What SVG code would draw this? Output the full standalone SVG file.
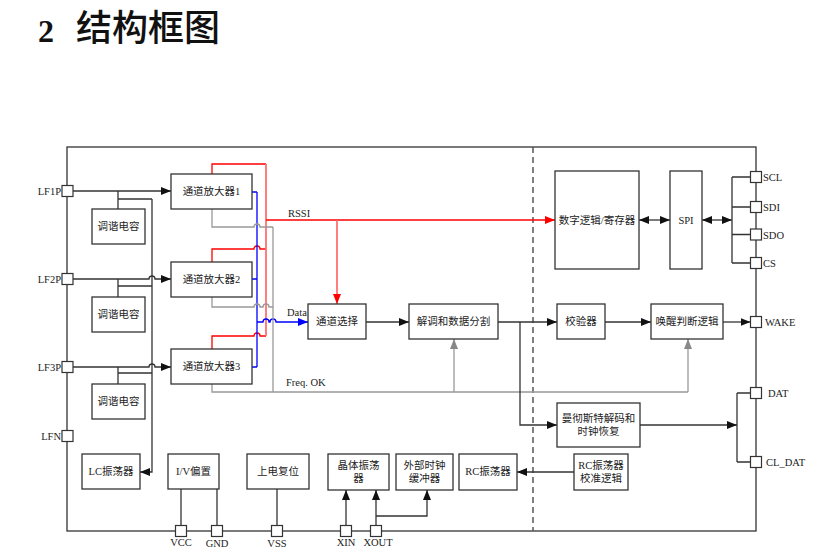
<svg xmlns="http://www.w3.org/2000/svg" width="836" height="560" viewBox="0 0 836 560">
<style>
.box{fill:#fff;stroke:#333;stroke-width:1.3}
.pin{fill:#fff;stroke:#333;stroke-width:1.2}
.t{font-family:"Liberation Serif","Noto Sans CJK SC",serif;font-size:10.5px;fill:#222;text-anchor:middle;dominant-baseline:central}
.lbl{font-family:"Liberation Serif","Noto Sans CJK SC",serif;font-size:10.5px;fill:#222}
.k{fill:none;stroke:#333;stroke-width:1.3}
.g{fill:none;stroke:#999;stroke-width:1.3}
.r{fill:none;stroke:#f00;stroke-width:1.3}
.rp{fill:none;stroke:#ff7070;stroke-width:1.8}
.b{fill:none;stroke:#00f;stroke-width:1.3}
</style>
<defs>
<marker id="ak" markerUnits="userSpaceOnUse" markerWidth="10" markerHeight="8" refX="10" refY="4" orient="auto-start-reverse"><path d="M0,0L10,4L0,8z" fill="#111"/></marker>
<marker id="ar" markerUnits="userSpaceOnUse" markerWidth="10" markerHeight="8" refX="10" refY="4" orient="auto"><path d="M0,0L10,4L0,8z" fill="#f00"/></marker>
<marker id="ab" markerUnits="userSpaceOnUse" markerWidth="10" markerHeight="8" refX="10" refY="4" orient="auto"><path d="M0,0L10,4L0,8z" fill="#00f"/></marker>
<marker id="ag" markerUnits="userSpaceOnUse" markerWidth="10" markerHeight="8" refX="10" refY="4" orient="auto"><path d="M0,0L10,4L0,8z" fill="#888"/></marker>
</defs>
<rect width="836" height="560" fill="#fff"/>
<g id="title">
<text x="38" y="42" font-family="Liberation Serif,serif" font-weight="bold" font-size="32" fill="#111">2</text>
<text x="76" y="41" font-family="Noto Sans CJK SC,sans-serif" font-weight="500" font-size="36" fill="#111">结构框图</text>
</g>
<g id="frame">
<rect x="67" y="147" width="689" height="384" fill="none" stroke="#333" stroke-width="1.3"/>
<line x1="533" y1="147" x2="533" y2="531" stroke="#555" stroke-width="1.5" stroke-dasharray="6,4"/>
</g>
<g id="connectors">
<!-- LF inputs -->
<path class="k" d="M73,191H171" marker-end="url(#ak)"/>
<path class="k" d="M73,279H149A3,3 0 0 1 155,279H171" marker-end="url(#ak)"/>
<path class="k" d="M73,367H149A3,3 0 0 1 155,367H171" marker-end="url(#ak)"/>
<path class="k" d="M118,191V209M118,199H152M118,279V297M118,286H152M118,367V384M118,373H152"/>
<path class="k" d="M152,199V472H140" marker-end="url(#ak)"/>
<!-- red RSSI -->
<path class="r" d="M212,174V164H266"/>
<path class="r" d="M212,262V249H254A3,3 0 0 1 260,249H266"/>
<path class="r" d="M212,349V336H254A3,3 0 0 1 260,336H266"/>
<path class="rp" d="M266,164V336"/>
<path class="r" d="M266,220H555" marker-end="url(#ar)"/>
<path class="rp" d="M337,220V304" marker-end="url(#ar)"/>
<!-- blue data -->
<path class="b" d="M252,192H257M252,279H257M252,367H257M257,192V367"/>
<path class="b" d="M257,322H263A3,3 0 0 1 269,322H270A3,3 0 0 1 276,322H308" marker-end="url(#ab)"/>
<!-- gray freq ok -->
<path class="g" d="M212,209V227H254A3,3 0 0 1 260,227H273"/>
<path class="g" d="M212,297V307H254A3,3 0 0 1 260,307H263A3,3 0 0 1 269,307H273"/>
<path class="g" d="M273,227V392"/>
<path class="g" d="M212,384V392H688"/>
<path class="g" d="M454,392V339" marker-end="url(#ag)"/>
<path class="g" d="M688,392V339" marker-end="url(#ag)"/>
<!-- data chain -->
<path class="k" d="M366,322H409" marker-end="url(#ak)"/>
<path class="k" d="M498,322H557" marker-end="url(#ak)"/>
<path class="k" d="M520,322V425H557" marker-end="url(#ak)"/>
<path class="k" d="M605,322H651" marker-end="url(#ak)"/>
<path class="k" d="M723,322H750.5" marker-end="url(#ak)"/>
<path class="k" d="M640,425H737" marker-end="url(#ak)"/>
<path class="k" d="M737,393V462M737,393H750.5M737,462H750.5"/>
<!-- SPI -->
<path class="k" d="M639,220H670" marker-start="url(#ak)" marker-end="url(#ak)"/>
<path class="k" d="M702,220H732" marker-start="url(#ak)" marker-end="url(#ak)"/>
<path class="k" d="M732,177V263M732,177H750.5M732,207H750.5M732,234.5H750.5M732,263H750.5"/>
<!-- bottom -->
<path class="k" d="M181,489V525.5M217,489V525.5M277,489V525.5"/>
<path class="k" d="M346,525.5V490" marker-end="url(#ak)"/>
<path class="k" d="M376,525.5V490" marker-end="url(#ak)"/>
<path class="k" d="M376,516H427V490" marker-end="url(#ak)"/>
<path class="k" d="M574,472H517" marker-end="url(#ak)"/>
</g>
<g id="n-amp1"><rect class="box" x="171" y="174" width="81" height="35"/><text class="t" x="211.5" y="191.5">通道放大器1</text></g>
<g id="n-amp2"><rect class="box" x="171" y="262" width="81" height="35"/><text class="t" x="211.5" y="279.5">通道放大器2</text></g>
<g id="n-amp3"><rect class="box" x="171" y="349" width="81" height="35"/><text class="t" x="211.5" y="366.5">通道放大器3</text></g>
<g id="n-cap1"><rect class="box" x="92" y="209" width="53" height="35"/><text class="t" x="118.5" y="226.5">调谐电容</text></g>
<g id="n-cap2"><rect class="box" x="92" y="297" width="53" height="35"/><text class="t" x="118.5" y="314.5">调谐电容</text></g>
<g id="n-cap3"><rect class="box" x="92" y="384" width="53" height="35"/><text class="t" x="118.5" y="401.5">调谐电容</text></g>
<g id="n-sel"><rect class="box" x="308" y="304" width="58" height="35"/><text class="t" x="337" y="321.5">通道选择</text></g>
<g id="n-demod"><rect class="box" x="409" y="304" width="89" height="35"/><text class="t" x="453.5" y="321.5">解调和数据分割</text></g>
<g id="n-logic"><rect class="box" x="555" y="171" width="84" height="98"/><text class="t" x="597" y="220">数字逻辑/寄存器</text></g>
<g id="n-spi"><rect class="box" x="670" y="171" width="32" height="98"/><text class="t" x="686" y="220">SPI</text></g>
<g id="n-check"><rect class="box" x="557" y="304" width="48" height="35"/><text class="t" x="581" y="321.5">校验器</text></g>
<g id="n-wake"><rect class="box" x="651" y="304" width="72" height="35"/><text class="t" x="687" y="321.5">唤醒判断逻辑</text></g>
<g id="n-manch"><rect class="box" x="557" y="403" width="83" height="44"/><text class="t" x="598.5" y="418">曼彻斯特解码和</text><text class="t" x="598.5" y="431.5">时钟恢复</text></g>
<g id="n-lc"><rect class="box" x="82" y="454" width="58" height="35"/><text class="t" x="111" y="471.5">LC振荡器</text></g>
<g id="n-iv"><rect class="box" x="168" y="454" width="51" height="35"/><text class="t" x="193.5" y="471.5">I/V偏置</text></g>
<g id="n-por"><rect class="box" x="247" y="454" width="62" height="35"/><text class="t" x="278" y="471.5">上电复位</text></g>
<g id="n-xtal"><rect class="box" x="328" y="454" width="61" height="36"/><text class="t" x="358.5" y="465.5">晶体振荡</text><text class="t" x="358.5" y="478">器</text></g>
<g id="n-extclk"><rect class="box" x="396" y="454" width="57" height="36"/><text class="t" x="424.5" y="465.5">外部时钟</text><text class="t" x="424.5" y="478">缓冲器</text></g>
<g id="n-rc"><rect class="box" x="459" y="454" width="58" height="36"/><text class="t" x="488" y="471.5">RC振荡器</text></g>
<g id="n-rccal"><rect class="box" x="574" y="454" width="54" height="36"/><text class="t" x="601" y="465.5">RC振荡器</text><text class="t" x="601" y="478.5">校准逻辑</text></g>
<g id="pins">
<rect class="pin" x="62" y="185.5" width="11" height="11"/><text class="lbl" x="61" y="195" text-anchor="end">LF1P</text>
<rect class="pin" x="62" y="273.5" width="11" height="11"/><text class="lbl" x="61" y="283" text-anchor="end">LF2P</text>
<rect class="pin" x="62" y="361.5" width="11" height="11"/><text class="lbl" x="61" y="371" text-anchor="end">LF3P</text>
<rect class="pin" x="62" y="430.5" width="11" height="11"/><text class="lbl" x="61" y="440" text-anchor="end">LFN</text>
<rect class="pin" x="750.5" y="171.5" width="11" height="11"/><text class="lbl" x="763" y="181">SCL</text>
<rect class="pin" x="750.5" y="201.5" width="11" height="11"/><text class="lbl" x="763" y="211">SDI</text>
<rect class="pin" x="750.5" y="229" width="11" height="11"/><text class="lbl" x="763" y="238.5">SDO</text>
<rect class="pin" x="750.5" y="257.5" width="11" height="11"/><text class="lbl" x="763" y="267">CS</text>
<rect class="pin" x="750.5" y="316.5" width="11" height="11"/><text class="lbl" x="765" y="326">WAKE</text>
<rect class="pin" x="750.5" y="387.5" width="11" height="11"/><text class="lbl" x="768" y="397">DAT</text>
<rect class="pin" x="750.5" y="456.5" width="11" height="11"/><text class="lbl" x="766" y="466">CL_DAT</text>
<rect class="pin" x="175.5" y="525.5" width="11" height="11"/><text class="lbl" x="181" y="546" text-anchor="middle">VCC</text>
<rect class="pin" x="211.5" y="525.5" width="11" height="11"/><text class="lbl" x="217" y="547" text-anchor="middle">GND</text>
<rect class="pin" x="271.5" y="525.5" width="11" height="11"/><text class="lbl" x="277" y="547" text-anchor="middle">VSS</text>
<rect class="pin" x="340.5" y="525.5" width="11" height="11"/><text class="lbl" x="346" y="546" text-anchor="middle">XIN</text>
<rect class="pin" x="370.5" y="525.5" width="11" height="11"/><text class="lbl" x="378" y="546" text-anchor="middle">XOUT</text>
</g>
<g id="labels">
<text class="lbl" x="288" y="217">RSSI</text>
<text class="lbl" x="287" y="316">Data</text>
<text class="lbl" x="286" y="386">Freq. OK</text>
</g>
</svg>
